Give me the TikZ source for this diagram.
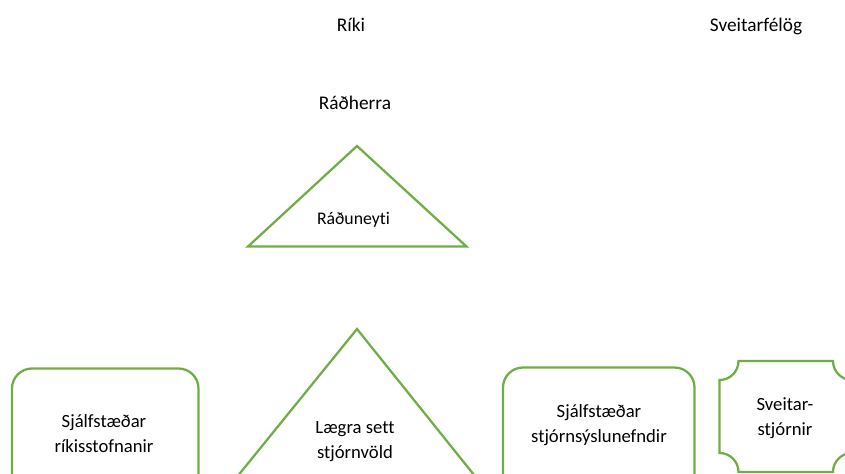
\documentclass[tikz,border=0pt]{standalone}
\usepackage{fontspec}
\setmainfont[Ligatures=NoCommon]{Carlito}
\definecolor{boxgreen}{HTML}{70AD47}
\begin{document}
\begin{tikzpicture}[x=0.75pt,y=-0.75pt,
  shapeline/.style={draw=boxgreen,line width=1.7pt,line join=miter},
  toplbl/.style={font=\fontsize{14.5}{18}\selectfont,anchor=base,inner sep=0pt},
  smalllbl/.style={font=\fontsize{13.3}{16}\selectfont,anchor=base,inner sep=0pt},
  boxlbl/.style={font=\fontsize{14}{18.4}\selectfont,anchor=base,inner sep=0pt,align=center}]
\useasboundingbox (0,0) rectangle (845,474);
\begin{scope}
\clip (0,0) rectangle (845,474);
% upper triangle
\draw[shapeline] (357,146) -- (466.5,246.5) -- (248,246.5) -- cycle;
% lower triangle
\draw[shapeline] (357,329) -- (484.5,488) -- (228,488) -- cycle;
% left rounded box
\draw[shapeline,rounded corners=15pt] (12,368.5) rectangle (198.5,495);
% right rounded box
\draw[shapeline,rounded corners=15pt] (503,367.5) rectangle (694.5,495);
% plaque
\def\pl{719.5}\def\pr{852}\def\pt{361}\def\pb{472}\def\r{19}\def\k{10.5}
\draw[shapeline]
  (\pl+\r,\pt) -- (\pr-\r,\pt)
  .. controls (\pr-\r,\pt+\k) and (\pr-\k,\pt+\r) .. (\pr,\pt+\r)
  -- (\pr,\pb-\r)
  .. controls (\pr-\k,\pb-\r) and (\pr-\r,\pb-\k) .. (\pr-\r,\pb)
  -- (\pl+\r,\pb)
  .. controls (\pl+\r,\pb-\k) and (\pl+\k,\pb-\r) .. (\pl,\pb-\r)
  -- (\pl,\pt+\r)
  .. controls (\pl+\k,\pt+\r) and (\pl+\r,\pt+\k) .. (\pl+\r,\pt)
  -- cycle;
\end{scope}
% labels
\node[toplbl] (riki) at (351,31.7) {Ríki};
\node[toplbl] (sveitarfelog) at (756,31.7) {Sveitarfélög};
\node[toplbl] (radherra) at (355,109.5) {Ráðherra};
\node[smalllbl] (raduneyti) at (353.5,224) {Ráðuneyti};
\node[boxlbl] (rikisstofnanir) at (104,452.5) {Sjálfstæðar\\ríkisstofnanir};
\node[boxlbl] (laegra) at (355,458) {Lægra sett\\stjórnvöld};
\node[boxlbl] (nefndir) at (599,442) {Sjálfstæðar\\stjórnsýslunefndir};
\node[boxlbl] (sveitarstjornir) at (785,435) {Sveitar-\\stjórnir};
\end{tikzpicture}
\end{document}
